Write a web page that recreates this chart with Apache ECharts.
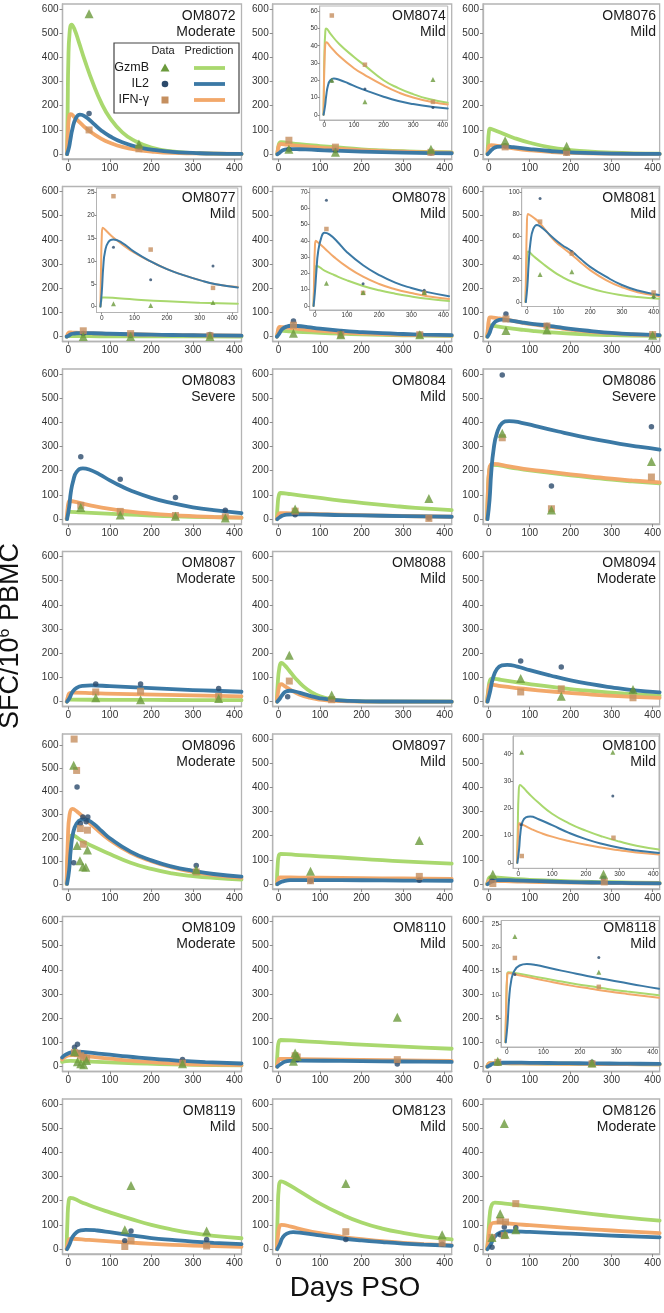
<!DOCTYPE html>
<html><head><meta charset="utf-8">
<script src="https://cdn.jsdelivr.net/npm/echarts@6/dist/echarts.min.js"></script>
<style>html,body{margin:0;padding:0;background:#fff}#c{width:664px;height:1313px}</style>
</head><body><div id="c"></div>
<script>
// ---------------- tick labels ----------------
const X_TICKS = [0, 100, 200, 300, 400];
const Y_TICKS = [0, 100, 200, 300, 400, 500, 600];

// ---------------- panels ----------------
const PANEL_IDS = ['OM8072','OM8074','OM8076','OM8077','OM8078','OM8081','OM8083','OM8084','OM8086',
  'OM8087','OM8088','OM8094','OM8096','OM8097','OM8100','OM8109','OM8110','OM8118','OM8119','OM8123','OM8126'];
const SEVERITY = ['Moderate','Mild','Mild','Mild','Mild','Mild','Severe','Mild','Severe',
  'Moderate','Mild','Moderate','Moderate','Mild','Mild','Moderate','Mild','Mild','Mild','Mild','Moderate'];

// ---------------- data (day, SFC) ; *_fit = model prediction ----------------
const OM8072_GzmB = [[50,580],[170,42]];
const OM8072_IL2 = [[50,168],[170,30]];
const OM8072_IFN = [[50,100],[170,22]];
const OM8072_GzmB_fit = [[-3,0],[-1.5,200],[0,380],[3,500],[8,535],[15,515],[25,465],[40,385],[60,290],[80,210],[100,150],[130,90],[160,55],[200,27],[250,11],[300,5],[350,2],[417,1]];
const OM8072_IL2_fit = [[-3,0],[2,30],[5,60],[10,105],[18,148],[28,163],[40,156],[60,127],[80,97],[100,74],[130,49],[170,28],[200,19],[250,9],[300,5],[350,2],[417,1]];
const OM8072_IFN_fit = [[-3,0],[-1,90],[2,155],[6,165],[15,152],[30,127],[50,97],[80,63],[100,47],[130,30],[170,17],[200,11],[250,5],[300,3],[417,1]];

const OM8074_GzmB = [[25,20],[137,7.5],[367,20.5]];
const OM8074_IL2 = [[25,19.5],[137,15],[367,4.3]];
const OM8074_IFN = [[25,57.5],[137,29],[367,7.5]];
const OM8074_GzmB_fit = [[-3,0],[-1.5,20],[0,35],[3,48],[6,50],[20,47],[50,41],[100,33.5],[137,28.5],[200,20],[250,15.5],[300,12],[350,9.3],[417,7]];
const OM8074_IL2_fit = [[-3,0],[2,5],[6,11],[12,17],[20,20],[32,21],[50,20.3],[80,18.3],[110,16],[137,14.3],[200,10.5],[250,8],[300,6.2],[367,4.5],[417,3.7]];
const OM8074_IFN_fit = [[-3,0],[-1.5,18],[0,30],[3,41],[6,42],[20,39.5],[50,34],[100,27],[137,23],[200,17],[250,13],[300,10],[367,7.3],[417,6]];

const OM8076_GzmB = [[40,55],[190,33]];
const OM8076_IL2 = [[40,35],[190,5]];
const OM8076_IFN = [[40,30],[190,7]];
const OM8076_GzmB_fit = [[-3,0],[-1.5,50],[0,85],[3,105],[8,103],[30,88],[60,68],[100,47],[150,28],[200,17],[250,10],[300,6],[350,3.5],[417,2]];
const OM8076_IL2_fit = [[-3,0],[3,10],[10,22],[20,30],[35,32],[60,29],[100,21],[150,13],[200,7.5],[300,2.5],[417,1]];
const OM8076_IFN_fit = [[-3,0],[-1,22],[2,36],[6,37],[30,32],[60,24],[100,16],[150,9],[200,5],[300,2],[417,1]];

const OM8077_GzmB = [[36,0.6],[150,0.25],[341,0.9]];
const OM8077_IL2 = [[36,13],[150,5.9],[341,8.9]];
const OM8077_IFN = [[36,24.2],[150,12.5],[341,4.1]];
const OM8077_GzmB_fit = [[-4,0],[-2,1],[1,2],[10,2],[50,1.8],[100,1.55],[200,1.15],[300,0.85],[417,0.6]];
const OM8077_IL2_fit = [[-4,0],[0,3],[5,9],[10,12],[20,14.1],[35,14.7],[60,14.1],[100,12],[150,9.9],[200,8.2],[250,6.9],[300,5.8],[350,4.9],[417,4.2]];
const OM8077_IFN_fit = [[-4,0],[-2,9],[0,15],[3,17.3],[10,16.9],[30,15.5],[60,13.8],[100,11.8],[150,9.9],[200,8.2],[250,6.9],[300,5.8],[350,4.9],[417,4.3]];

const OM8078_GzmB = [[36,14],[150,8.3],[340,8.3]];
const OM8078_IL2 = [[36,65],[150,13.7],[340,9.7]];
const OM8078_IFN = [[36,47.3],[150,8],[340,8]];
const OM8078_GzmB_fit = [[-4,0],[-2,12],[1,23.5],[4,24.5],[30,21.7],[60,19],[100,15.7],[150,12.3],[200,9.6],[250,7.5],[300,5.8],[350,4.4],[417,3]];
const OM8078_IL2_fit = [[-4,0],[0,8],[5,22],[10,33],[20,42],[30,45],[45,44],[70,39.5],[100,33],[150,25],[200,19],[250,14.3],[300,11],[350,8.5],[417,6]];
const OM8078_IFN_fit = [[-4,0],[-2,20],[0,35],[3,40],[10,39],[30,35.5],[60,30],[100,24],[150,18],[200,13.5],[250,10.3],[300,7.9],[350,6],[417,4.3]];

const OM8081_GzmB = [[42,25],[142,27.5],[400,6]];
const OM8081_IL2 = [[42,94],[142,45.7],[400,4.5]];
const OM8081_IFN = [[42,73],[142,44],[400,8.7]];
const OM8081_GzmB_fit = [[-4,0],[-2,20],[1,43],[4,46],[20,42],[50,35],[80,28.5],[110,23],[142,18.5],[200,12.5],[250,8.8],[300,6.3],[350,4.6],[417,3]];
const OM8081_IL2_fit = [[-3,0],[2,15],[6,35],[12,55],[20,66],[32,70],[50,67],[80,59],[110,52],[142,46],[170,39],[200,32],[250,23],[300,15.5],[350,10.5],[417,6.5]];
const OM8081_IFN_fit = [[-4,0],[-2,35],[0,65],[3,80],[10,79],[20,77],[40,72],[60,65],[90,55],[120,48],[142,43],[170,36],[200,29],[250,20],[300,13.5],[350,9],[417,5.5]];

const OM8083_GzmB = [[30,48],[125,17],[258,12],[378,5]];
const OM8083_IL2 = [[30,258],[125,165],[258,89],[378,37]];
const OM8083_IFN = [[30,57],[125,32],[258,15],[378,10]];
const OM8083_GzmB_fit = [[-4,0],[-2,15],[1,29],[4,30],[30,28],[80,24],[130,20],[200,15],[260,11.5],[330,8.5],[417,6]];
const OM8083_IL2_fit = [[-3,0],[2,50],[6,110],[12,160],[20,195],[35,210],[50,205],[75,185],[100,160],[125,138],[150,118],[200,88],[250,66],[300,49],[350,37],[417,25]];
const OM8083_IFN_fit = [[-4,0],[-2,40],[1,72],[4,75],[20,70],[50,58],[100,42],[150,31],[200,23],[250,17],[300,12.5],[350,9],[417,6]];

const OM8084_GzmB = [[40,42],[362,85]];
const OM8084_IL2 = [[40,18],[362,5]];
const OM8084_IFN = [[40,33],[362,3]];
const OM8084_GzmB_fit = [[-4,0],[-2,60],[1,100],[5,108],[30,103],[80,92],[130,81],[180,71],[230,62],[280,54],[330,47],[417,37]];
const OM8084_IL2_fit = [[-3,0],[3,8],[10,15],[20,19],[35,20],[80,19.5],[150,17],[250,14],[350,11.5],[417,10]];
const OM8084_IFN_fit = [[-4,0],[-1,15],[3,25],[30,24],[100,21],[200,17],[300,13],[417,10]];

const OM8086_GzmB = [[33,355],[153,38],[397,238]];
const OM8086_IL2 = [[33,595],[153,137],[397,382]];
const OM8086_IFN = [[33,336],[153,43],[397,174]];
const OM8086_GzmB_fit = [[-4,0],[-2,115],[1,196],[5,222],[10,224],[50,214],[100,201],[150,191],[200,181],[250,172],[300,163],[350,156],[417,148]];
const OM8086_IL2_fit = [[-3,0],[2,80],[6,190],[12,290],[20,355],[32,395],[50,405],[80,398],[120,382],[170,362],[220,343],[270,326],[320,311],[370,298],[417,287]];
const OM8086_IFN_fit = [[-4,0],[-2,120],[1,200],[5,226],[10,228],[50,218],[100,205],[150,195],[200,185],[250,176],[300,167],[350,160],[417,152]];

const OM8087_GzmB = [[66,16],[174,8],[362,13]];
const OM8087_IL2 = [[66,73],[174,73],[362,54]];
const OM8087_IFN = [[66,40],[174,43],[362,22]];
const OM8087_GzmB_fit = [[-4,0],[-1,6],[2,8],[100,7.5],[200,7],[300,6.5],[417,6]];
const OM8087_IL2_fit = [[-3,0],[3,15],[10,40],[20,57],[35,65],[55,67],[100,64],[150,60],[200,56],[250,52],[300,48],[350,45],[417,41]];
const OM8087_IFN_fit = [[-4,0],[-1,20],[3,35],[10,37],[60,35],[120,32],[180,30],[240,28],[300,26],[360,24],[417,22]];

const OM8088_GzmB = [[26,192],[128,28]];
const OM8088_IL2 = [[22,20],[128,10]];
const OM8088_IFN = [[26,85],[128,8]];
const OM8088_GzmB_fit = [[-4,0],[-2,70],[2,140],[7,160],[15,150],[25,130],[40,98],[60,63],[80,38],[100,22],[125,11],[150,5],[200,1.5],[300,0.3],[417,0]];
const OM8088_IL2_fit = [[-3,0],[3,12],[10,30],[18,42],[27,45],[40,42],[60,32],[80,22],[100,14],[130,7],[170,3],[250,0.6],[417,0]];
const OM8088_IFN_fit = [[-4,0],[-1,40],[3,70],[6,72],[15,64],[30,48],[50,30],[75,16],[100,8],[130,4],[170,1.5],[250,0.3],[417,0]];

const OM8094_GzmB = [[78,96],[177,22],[352,50]];
const OM8094_IL2 = [[78,168],[177,143],[352,45]];
const OM8094_IFN = [[78,40],[177,53],[352,16]];
const OM8094_GzmB_fit = [[-4,0],[-1,50],[3,88],[8,95],[30,90],[70,80],[120,68],[175,57],[230,47],[290,38],[350,31],[417,25]];
const OM8094_IL2_fit = [[-3,0],[3,40],[10,95],[20,135],[32,150],[45,152],[70,145],[100,130],[150,108],[200,88],[250,72],[300,59],[350,48],[417,38]];
const OM8094_IFN_fit = [[-4,0],[-1,40],[2,68],[5,70],[30,64],[70,56],[120,47],[175,39],[230,32],[290,25],[350,20],[417,16]];

const OM8096_GzmB = [[13,515],[21,167],[28,100],[35,75],[42,72],[46,147],[308,62]];
const OM8096_IL2 = [[13,92],[21,420],[29,262],[35,290],[43,270],[47,290],[308,80]];
const OM8096_IFN = [[14,628],[20,492],[29,240],[36,172],[46,233],[308,52]];
const OM8096_GzmB_fit = [[-4,0],[-1,130],[3,200],[10,210],[30,190],[60,162],[100,130],[150,92],[200,65],[250,46],[300,34],[350,26],[417,19]];
const OM8096_IL2_fit = [[-3,0],[2,60],[6,150],[12,225],[20,262],[30,278],[40,280],[60,262],[80,230],[100,198],[150,140],[200,102],[250,75],[300,57],[350,43],[417,32]];
const OM8096_IFN_fit = [[-4,0],[-1,200],[3,300],[10,325],[20,315],[40,283],[60,250],[100,190],[150,135],[200,98],[250,72],[300,52],[350,38],[417,26]];

const OM8097_GzmB = [[77,53],[339,180]];
const OM8097_IL2 = [[77,12],[339,16]];
const OM8097_IFN = [[77,14],[339,32]];
const OM8097_GzmB_fit = [[-4,0],[-2,80],[1,120],[5,125],[50,120],[100,115],[150,110],[200,104],[250,99],[300,94],[350,90],[417,85]];
const OM8097_IL2_fit = [[-3,0],[5,8],[15,14],[30,16.5],[60,17],[150,16.5],[250,15.5],[350,14.5],[417,14]];
const OM8097_IFN_fit = [[-4,0],[-1,18],[3,28],[50,27],[150,26],[250,24],[350,23],[417,22]];

const OM8100_GzmB = [[10,40.5],[280,40.5]];
const OM8100_IL2 = [[8,14],[280,24.5]];
const OM8100_IFN = [[10,2.5],[282,9.2]];
const OM8100_GzmB_fit = [[-4,0],[-2,12],[1,26],[5,28.5],[15,27.5],[30,25.5],[60,22],[100,18],[150,14.5],[200,11.8],[250,9.6],[300,7.8],[350,6.3],[417,4.9]];
const OM8100_IL2_fit = [[-3,0],[2,5],[6,11],[12,15],[22,16.7],[35,17],[60,16],[100,13.8],[150,11],[200,8.7],[250,6.9],[300,5.5],[350,4.5],[417,3.6]];
const OM8100_IFN_fit = [[-4,0],[-2,7],[1,14],[3,14.5],[15,13.8],[40,12.3],[70,10.8],[100,9.6],[150,8],[200,6.6],[250,5.5],[300,4.6],[350,3.8],[417,3.1]];

const OM8109_GzmB = [[15,62],[22,20],[30,12],[37,8],[44,25],[275,12]];
const OM8109_IL2 = [[15,80],[22,93],[275,30]];
const OM8109_IFN = [[15,58],[22,55],[30,45],[37,38],[44,35],[275,15]];
const OM8109_GzmB_fit = [[-15,20],[-5,23],[5,24],[40,22],[100,18],[160,14],[220,11],[275,9],[350,6.5],[417,5]];
const OM8109_IL2_fit = [[-15,38],[-8,48],[0,55],[10,60],[20,62],[40,60],[80,53],[120,46],[170,37],[220,30],[275,24],[330,19],[417,13]];
const OM8109_IFN_fit = [[-15,30],[-8,40],[0,46],[10,48],[30,46],[60,40],[100,33],[150,25],[200,19],[275,12],[350,8],[417,6]];

const OM8110_GzmB = [[36,22],[40,56],[45,43],[286,204]];
const OM8110_IL2 = [[45,30],[286,11]];
const OM8110_IFN = [[40,45],[45,40],[286,29]];
const OM8110_GzmB_fit = [[-4,0],[-2,70],[1,105],[5,110],[50,106],[100,101],[150,96],[200,91],[250,87],[300,83],[350,79],[417,74]];
const OM8110_IL2_fit = [[-3,0],[5,10],[15,20],[30,24],[50,25],[150,23.5],[250,22],[350,20.5],[417,19.5]];
const OM8110_IFN_fit = [[-4,0],[-1,20],[3,32],[50,31],[150,29],[250,27],[350,25],[417,24]];

const OM8118_GzmB = [[22,22.3],[252,14.8]];
const OM8118_IL2 = [[22,14.3],[252,17.9]];
const OM8118_IFN = [[22,17.8],[252,11.7]];
const OM8118_GzmB_fit = [[-4,0],[-2,7],[1,14.2],[4,14.8],[30,14.5],[80,13.8],[130,13.1],[180,12.4],[230,11.8],[280,11.2],[330,10.7],[417,9.9]];
const OM8118_IL2_fit = [[-3,0],[2,4],[6,9],[12,13],[20,15],[35,16.2],[55,16.5],[80,16.3],[120,15.6],[170,14.8],[220,14],[270,13.3],[320,12.6],[370,11.9],[417,11.3]];
const OM8118_IFN_fit = [[-4,0],[-2,7],[1,14],[4,14.6],[30,14.2],[80,13.4],[130,12.6],[180,11.9],[230,11.3],[280,10.7],[330,10.2],[417,9.4]];

const OM8119_GzmB = [[136,80],[151,263],[333,75]];
const OM8119_IL2 = [[136,35],[151,75],[333,40]];
const OM8119_IFN = [[136,11],[151,35],[333,13]];
const OM8119_GzmB_fit = [[-4,0],[-2,120],[1,200],[5,212],[30,195],[60,175],[100,152],[150,125],[200,100],[250,81],[300,66],[350,55],[417,45]];
const OM8119_IL2_fit = [[-3,0],[3,20],[10,50],[20,70],[30,78],[42,80],[70,77],[100,70],[150,57],[200,46],[250,38],[300,31],[350,26],[417,21]];
const OM8119_IFN_fit = [[-4,0],[-1,25],[3,42],[8,43],[50,38],[100,32],[150,27],[200,22],[250,18],[300,15],[350,13],[417,10]];

const OM8123_GzmB = [[162,271],[394,59]];
const OM8123_IL2 = [[162,40],[394,20]];
const OM8123_IFN = [[162,72],[394,25]];
const OM8123_GzmB_fit = [[-4,0],[-2,150],[1,260],[6,280],[20,270],[50,240],[100,188],[150,145],[200,110],[250,85],[300,67],[350,53],[417,40]];
const OM8123_IL2_fit = [[-3,0],[3,20],[10,48],[20,64],[35,70],[60,66],[100,57],[150,45],[200,36],[250,29],[300,23],[350,18.5],[417,14]];
const OM8123_IFN_fit = [[-4,0],[-1,60],[3,97],[7,100],[30,93],[60,80],[100,66],[150,52],[200,41],[250,33],[300,26],[350,21],[417,16]];

const OM8126_GzmB = [[8,48],[28,146],[38,519],[40,62],[66,80]];
const OM8126_IL2 = [[8,8],[28,60],[38,92],[66,88]];
const OM8126_IFN = [[8,48],[28,118],[38,56],[41,112],[66,188]];
const OM8126_GzmB_fit = [[-4,0],[-1,60],[3,150],[8,185],[15,192],[40,188],[80,180],[130,170],[180,160],[230,150],[280,140],[330,131],[417,118]];
const OM8126_IL2_fit = [[-3,0],[5,20],[12,45],[22,63],[35,72],[50,74],[100,71],[150,67],[200,64],[250,60],[300,56],[350,53],[417,49]];
const OM8126_IFN_fit = [[-4,0],[-1,40],[3,90],[10,108],[25,110],[60,104],[100,99],[150,93],[200,87],[250,82],[300,77],[350,72],[417,66]];

// inset tick labels
const OM8074_INSET_TICKS = [0, 10, 20, 30, 40, 50, 60];
const OM8077_INSET_TICKS = [0, 5, 10, 15, 20, 25];
const OM8078_INSET_TICKS = [0, 10, 20, 30, 40, 50, 60, 70];
const OM8081_INSET_TICKS = [0, 20, 40, 60, 80, 100];
const OM8100_INSET_TICKS = [0, 10, 20, 30, 40];
const OM8118_INSET_TICKS = [0, 5, 10, 15, 20, 25];

// ---------------- table for the library ----------------
const TABLE = {
  OM8072:[OM8072_GzmB,OM8072_IL2,OM8072_IFN,OM8072_GzmB_fit,OM8072_IL2_fit,OM8072_IFN_fit],
  OM8074:[OM8074_GzmB,OM8074_IL2,OM8074_IFN,OM8074_GzmB_fit,OM8074_IL2_fit,OM8074_IFN_fit],
  OM8076:[OM8076_GzmB,OM8076_IL2,OM8076_IFN,OM8076_GzmB_fit,OM8076_IL2_fit,OM8076_IFN_fit],
  OM8077:[OM8077_GzmB,OM8077_IL2,OM8077_IFN,OM8077_GzmB_fit,OM8077_IL2_fit,OM8077_IFN_fit],
  OM8078:[OM8078_GzmB,OM8078_IL2,OM8078_IFN,OM8078_GzmB_fit,OM8078_IL2_fit,OM8078_IFN_fit],
  OM8081:[OM8081_GzmB,OM8081_IL2,OM8081_IFN,OM8081_GzmB_fit,OM8081_IL2_fit,OM8081_IFN_fit],
  OM8083:[OM8083_GzmB,OM8083_IL2,OM8083_IFN,OM8083_GzmB_fit,OM8083_IL2_fit,OM8083_IFN_fit],
  OM8084:[OM8084_GzmB,OM8084_IL2,OM8084_IFN,OM8084_GzmB_fit,OM8084_IL2_fit,OM8084_IFN_fit],
  OM8086:[OM8086_GzmB,OM8086_IL2,OM8086_IFN,OM8086_GzmB_fit,OM8086_IL2_fit,OM8086_IFN_fit],
  OM8087:[OM8087_GzmB,OM8087_IL2,OM8087_IFN,OM8087_GzmB_fit,OM8087_IL2_fit,OM8087_IFN_fit],
  OM8088:[OM8088_GzmB,OM8088_IL2,OM8088_IFN,OM8088_GzmB_fit,OM8088_IL2_fit,OM8088_IFN_fit],
  OM8094:[OM8094_GzmB,OM8094_IL2,OM8094_IFN,OM8094_GzmB_fit,OM8094_IL2_fit,OM8094_IFN_fit],
  OM8096:[OM8096_GzmB,OM8096_IL2,OM8096_IFN,OM8096_GzmB_fit,OM8096_IL2_fit,OM8096_IFN_fit],
  OM8097:[OM8097_GzmB,OM8097_IL2,OM8097_IFN,OM8097_GzmB_fit,OM8097_IL2_fit,OM8097_IFN_fit],
  OM8100:[OM8100_GzmB,OM8100_IL2,OM8100_IFN,OM8100_GzmB_fit,OM8100_IL2_fit,OM8100_IFN_fit],
  OM8109:[OM8109_GzmB,OM8109_IL2,OM8109_IFN,OM8109_GzmB_fit,OM8109_IL2_fit,OM8109_IFN_fit],
  OM8110:[OM8110_GzmB,OM8110_IL2,OM8110_IFN,OM8110_GzmB_fit,OM8110_IL2_fit,OM8110_IFN_fit],
  OM8118:[OM8118_GzmB,OM8118_IL2,OM8118_IFN,OM8118_GzmB_fit,OM8118_IL2_fit,OM8118_IFN_fit],
  OM8119:[OM8119_GzmB,OM8119_IL2,OM8119_IFN,OM8119_GzmB_fit,OM8119_IL2_fit,OM8119_IFN_fit],
  OM8123:[OM8123_GzmB,OM8123_IL2,OM8123_IFN,OM8123_GzmB_fit,OM8123_IL2_fit,OM8123_IFN_fit],
  OM8126:[OM8126_GzmB,OM8126_IL2,OM8126_IFN,OM8126_GzmB_fit,OM8126_IL2_fit,OM8126_IFN_fit]
};
const INSET_TICKS = {OM8074:OM8074_INSET_TICKS, OM8077:OM8077_INSET_TICKS, OM8078:OM8078_INSET_TICKS,
  OM8081:OM8081_INSET_TICKS, OM8100:OM8100_INSET_TICKS, OM8118:OM8118_INSET_TICKS};

// ---------------- layout & style ----------------
const FONT = '"Liberation Sans", Arial, sans-serif';
const COL = {gzPt:'#6b9a3c', ilPt:'#2b4a6b', ifnPt:'#c58f5f', gzLn:'#a9d86e', ilLn:'#3b79a5', ifnLn:'#f2a86a'};
const COL_LEFT = [62.5, 272.7, 483];
const PW = 179, PH = 155, ROW0 = 4, ROW_STEP = 182.5;
// inset box offsets from panel frame: [left, top, right, bottom] px
const INSET_BOX = {OM8074:[47,2,4,39], OM8077:[34,1.5,3.7,29], OM8078:[37,1.5,2.7,31.5],
  OM8081:[38.7,1.5,3,35], OM8100:[30,2,3,20.7], OM8118:[18,4,3,24.5]};
const INSET_YR = {OM8074:[-3,63], OM8077:[-1.3,26], OM8078:[-2.5,72.5], OM8081:[-4,103.5], OM8100:[-2,46.5], OM8118:[-1,25.7]};

const grid=[], xAxis=[], yAxis=[], series=[], graphic=[];

function addAxes(box, xr, yr, xt, yt, s) {
  const gi = grid.length;
  grid.push({left:box[0], top:box[1], width:box[2], height:box[3], show:true,
    borderColor:s.border, borderWidth:s.bw, backgroundColor:s.bg, containLabel:false});
  const common = (ticks, margin) => ({
    axisLine:{show:true, onZero:false, lineStyle:{color:s.border, width:s.bw}},
    splitLine:{show:false},
    axisTick:{show:true, customValues:ticks, length:s.tick, lineStyle:{color:'#8a8a8a', width:1}},
    axisLabel:{customValues:ticks, fontSize:s.fs, color:'#333', margin:margin, fontFamily:FONT}
  });
  xAxis.push(Object.assign({type:'value', gridIndex:gi, min:xr[0], max:xr[1]}, common(xt, s.mx)));
  yAxis.push(Object.assign({type:'value', gridIndex:gi, min:yr[0], max:yr[1]}, common(yt, s.my)));
  return gi;
}
function addSeries(gi, d, s) {
  const ln = (data, c) => ({type:'line', xAxisIndex:gi, yAxisIndex:gi, data, showSymbol:false, smooth:0.5,
    lineStyle:{color:c, width:s.lw, cap:'round', join:'round'}, itemStyle:{color:c}, z:2, silent:true, clip:true});
  const sc = (data, sym, size, c) => ({type:'scatter', xAxisIndex:gi, yAxisIndex:gi, data, symbol:sym,
    symbolSize:size, itemStyle:{color:c}, z:3, silent:true, clip:true});
  series.push(ln(d[3], COL.gzLn), ln(d[5], COL.ifnLn), ln(d[4], COL.ilLn));
  series.push(sc(d[1], 'circle', s.cs, COL.ilPt), sc(d[2], 'rect', s.rs, COL.ifnPt), sc(d[0], 'triangle', s.ts, COL.gzPt));
}

const MAIN_STYLE = {border:'#b4b4b4', bw:1.3, bg:'transparent', tick:3, fs:10, mx:4, my:4, lw:3.8, cs:5.5, rs:7, ts:9};
const INSET_STYLE = {border:'#b4b4b4', bw:1, bg:'#fff', tick:2, fs:6.5, mx:2, my:2, lw:2, cs:3, rs:4.5, ts:5};

PANEL_IDS.forEach((id, k) => {
  const r = Math.floor(k / 3), c = k % 3;
  const left = COL_LEFT[c], top = ROW0 + ROW_STEP * r;
  const yr = id === 'OM8096' ? [-22, 650] : [-20, 620];
  const gi = addAxes([left, top, PW, PH], [-14, 417], yr, X_TICKS, Y_TICKS, MAIN_STYLE);
  addSeries(gi, TABLE[id], MAIN_STYLE);
  if (INSET_BOX[id]) {
    const b = INSET_BOX[id];
    const box = [left + b[0], top + b[1], PW - b[0] - b[2], PH - b[1] - b[3]];
    const gj = addAxes(box, [-16, 417], INSET_YR[id], X_TICKS, INSET_TICKS[id], INSET_STYLE);
    addSeries(gj, TABLE[id], INSET_STYLE);
  }
  graphic.push({type:'text', x:left + PW - 6, y:top + 4, z:50, silent:true,
    style:{text:id + '\n' + SEVERITY[k], align:'right', verticalAlign:'top', fontSize:14,
      fontFamily:FONT, fill:'#1a1a1a', lineHeight:16}});
});

// legend box inside OM8072
const LG = {x:114, y:43, w:125, h:70};
graphic.push({type:'rect', z:60, silent:true, shape:{x:LG.x, y:LG.y, width:LG.w, height:LG.h},
  style:{fill:'#fff', stroke:'#444', lineWidth:1.2}});
const legendRows = [['GzmB', COL.gzPt, COL.gzLn, 'triangle'], ['IL2', COL.ilPt, COL.ilLn, 'circle'], ['IFN-\u03B3', COL.ifnPt, COL.ifnLn, 'rect']];
graphic.push({type:'text', z:61, silent:true, x:163, y:51, style:{text:'Data', align:'center', verticalAlign:'middle', fontSize:11, fontFamily:FONT, fill:'#1a1a1a'}});
graphic.push({type:'text', z:61, silent:true, x:209, y:51, style:{text:'Prediction', align:'center', verticalAlign:'middle', fontSize:11, fontFamily:FONT, fill:'#1a1a1a'}});
legendRows.forEach((row, i) => {
  const yy = 68 + 16 * i;
  graphic.push({type:'text', z:61, silent:true, x:149, y:yy, style:{text:row[0], align:'right', verticalAlign:'middle', fontSize:12.5, fontFamily:FONT, fill:'#1a1a1a'}});
  if (row[3] === 'triangle') graphic.push({type:'polygon', z:61, silent:true, shape:{points:[[165,yy-4.5],[169.5,yy+3.5],[160.5,yy+3.5]]}, style:{fill:row[1]}});
  if (row[3] === 'circle') graphic.push({type:'circle', z:61, silent:true, shape:{cx:165, cy:yy, r:3.3}, style:{fill:row[1]}});
  if (row[3] === 'rect') graphic.push({type:'rect', z:61, silent:true, shape:{x:161.5, y:yy-3.5, width:7, height:7}, style:{fill:row[1]}});
  graphic.push({type:'line', z:61, silent:true, shape:{x1:194, y1:yy, x2:225, y2:yy}, style:{stroke:row[2], lineWidth:3.8}});
});

// axis titles
graphic.push({type:'text', z:61, silent:true, x:11, y:636, rotation:Math.PI/2,
  style:{text:'{a|SFC/10}{s|6}{a| PBMC}', align:'center', verticalAlign:'middle', fill:'#111',
    rich:{a:{fontSize:27, fontFamily:FONT, fill:'#111'}, s:{fontSize:16, fontFamily:FONT, fill:'#111', padding:[0,0,12,0]}}}});
graphic.push({type:'text', z:61, silent:true, x:355, y:1288,
  style:{text:'Days PSO', align:'center', verticalAlign:'middle', fontSize:28, fontFamily:FONT, fill:'#111'}});

const chart = echarts.init(document.getElementById('c'), null, {renderer:'canvas'});
chart.setOption({animation:false, backgroundColor:'#fff', grid, xAxis, yAxis, series, graphic});
</script>
</body></html>
